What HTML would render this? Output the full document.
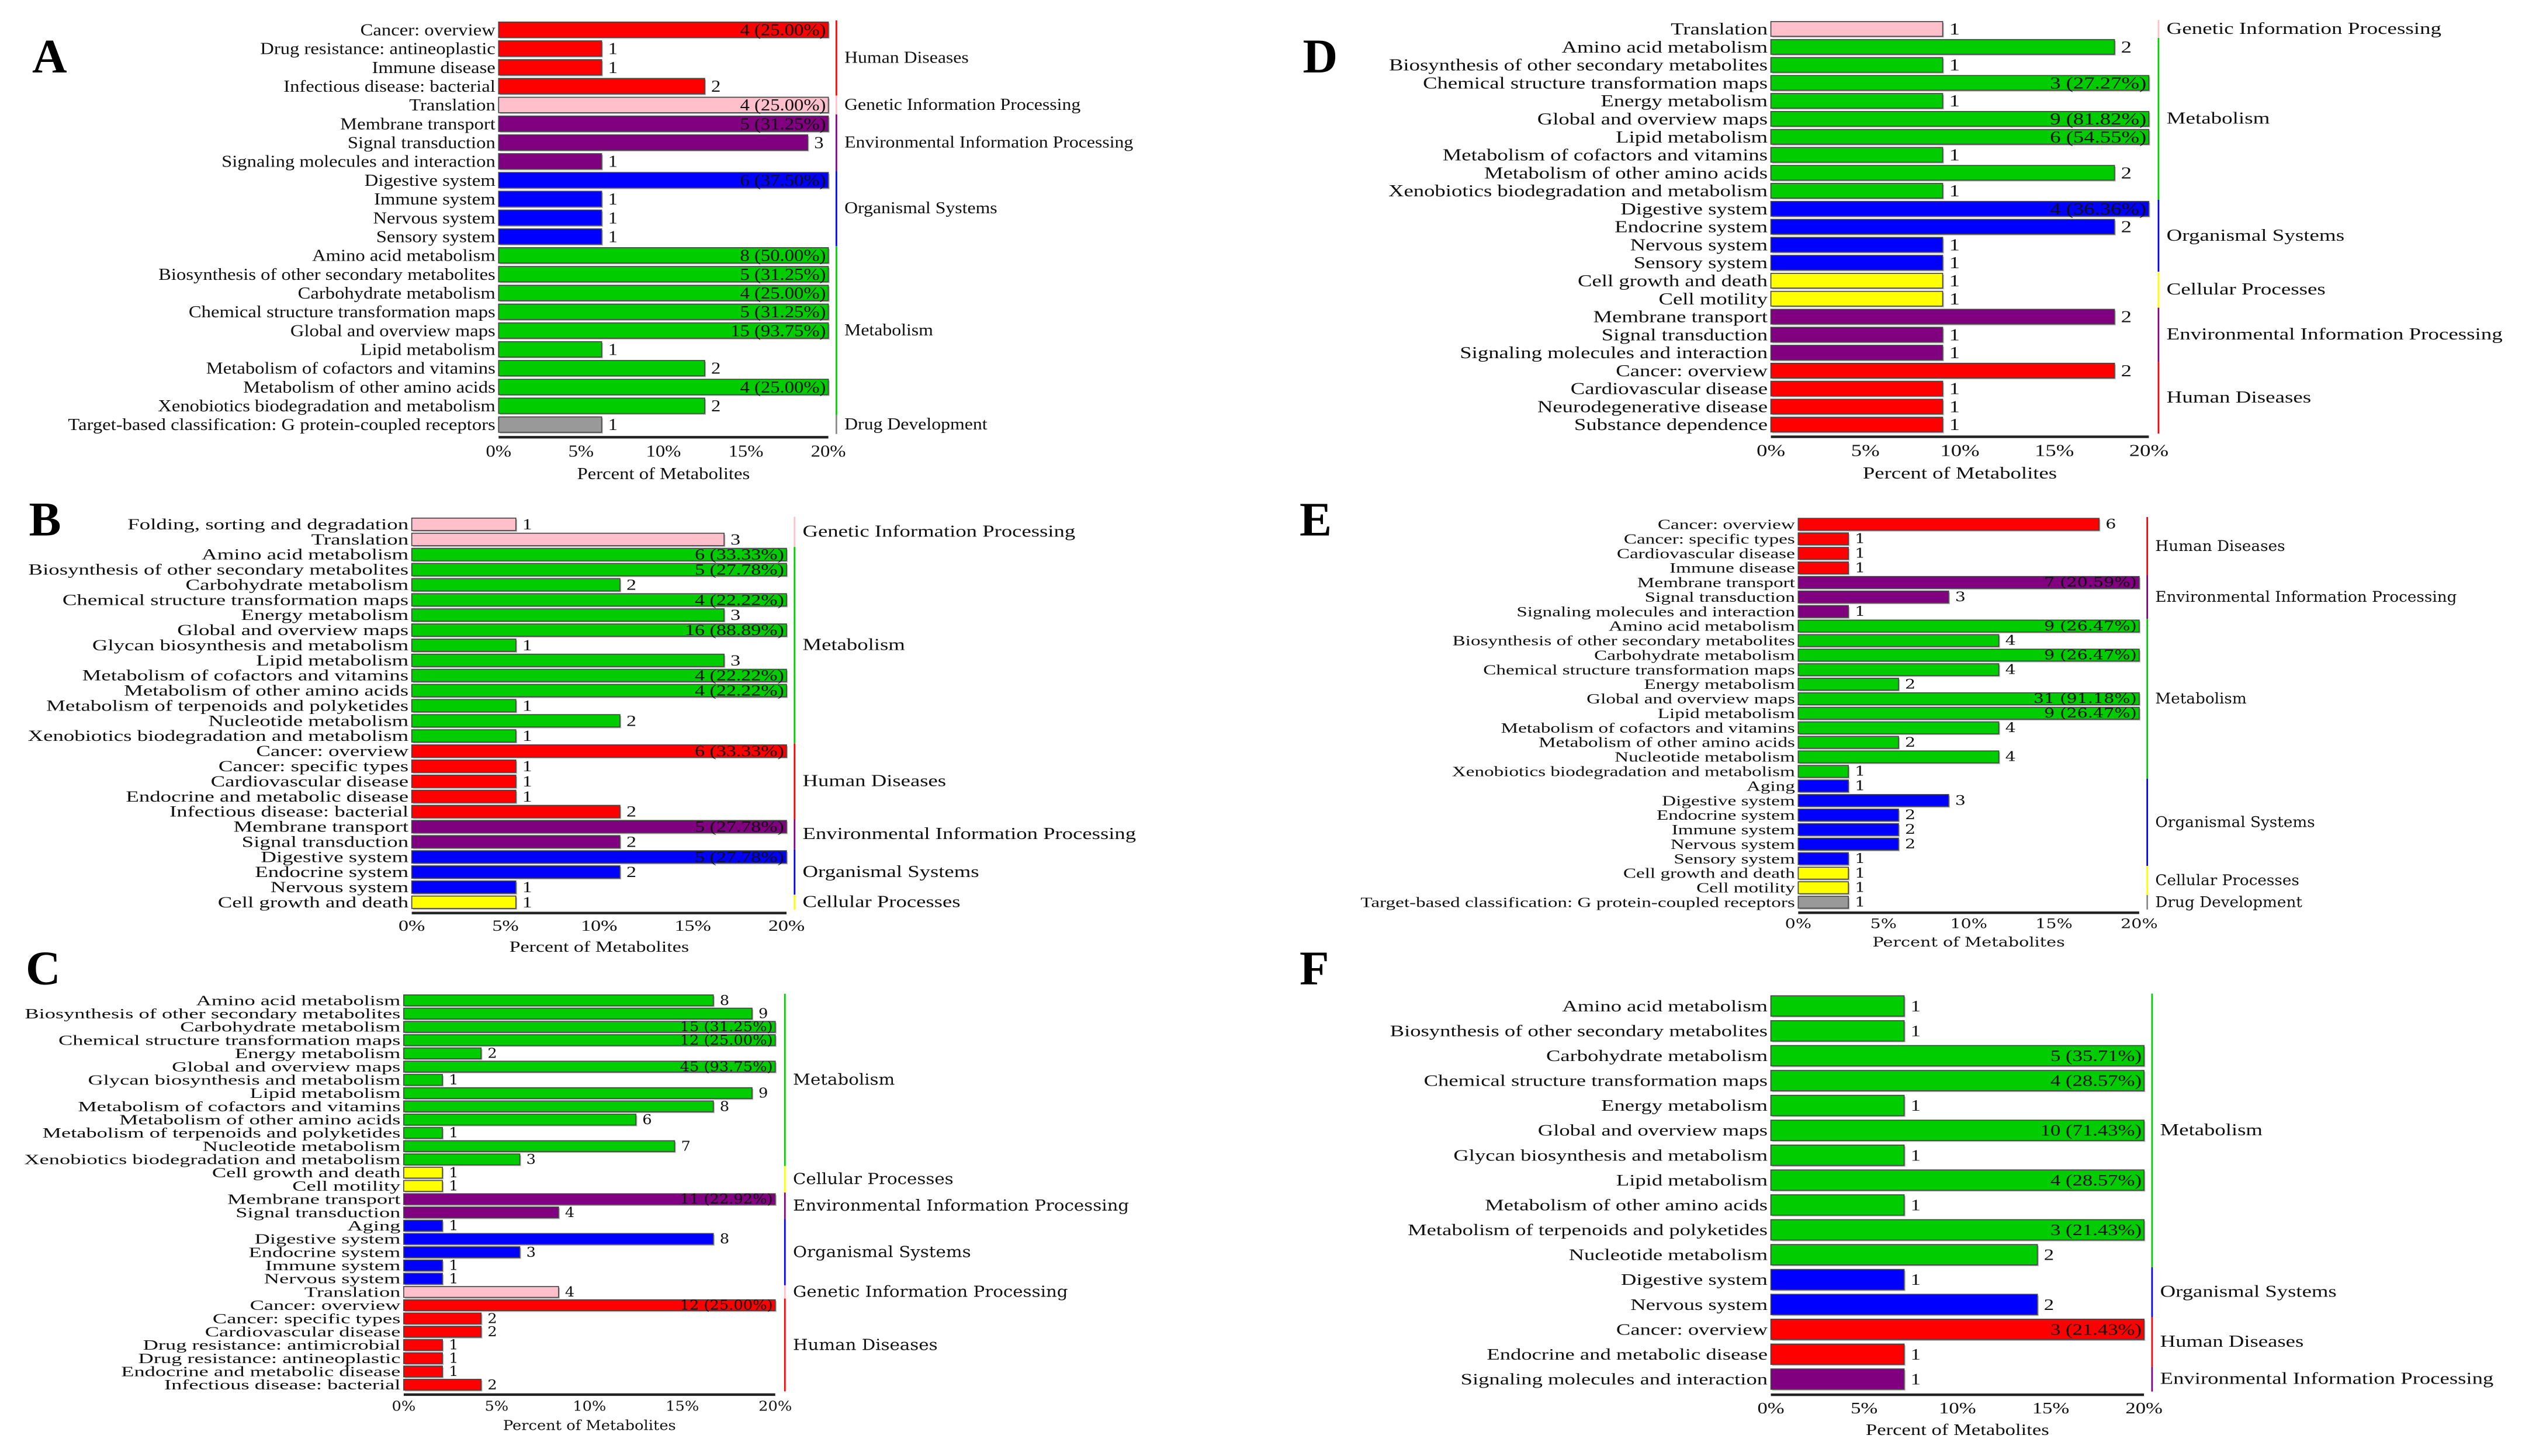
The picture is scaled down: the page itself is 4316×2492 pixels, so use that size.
<!DOCTYPE html>
<html><head><meta charset="utf-8">
<style>
html,body{margin:0;padding:0;background:#fff;}
svg{display:block;}
</style></head>
<body>
<svg id="fig" xmlns="http://www.w3.org/2000/svg" width="4316" height="2492" viewBox="0 0 1568 905.3" preserveAspectRatio="none"></svg>
<script>
// ---- Panel A data ----
const aCats=["Cancer: overview","Drug resistance: antineoplastic","Immune disease","Infectious disease: bacterial","Translation","Membrane transport","Signal transduction","Signaling molecules and interaction","Digestive system","Immune system","Nervous system","Sensory system","Amino acid metabolism","Biosynthesis of other secondary metabolites","Carbohydrate metabolism","Chemical structure transformation maps","Global and overview maps","Lipid metabolism","Metabolism of cofactors and vitamins","Metabolism of other amino acids","Xenobiotics biodegradation and metabolism","Target-based classification: G protein-coupled receptors"];
const aVals=[4,1,1,2,4,5,3,1,6,1,1,1,8,5,4,5,15,1,2,4,2,1];
const aGroups=["Human Diseases","Genetic Information Processing","Environmental Information Processing","Organismal Systems","Metabolism","Drug Development"];
const aGroupSizes=[4,1,3,4,9,1];
const aTotal=16;
// ---- Panel B data ----
const bCats=["Folding, sorting and degradation","Translation","Amino acid metabolism","Biosynthesis of other secondary metabolites","Carbohydrate metabolism","Chemical structure transformation maps","Energy metabolism","Global and overview maps","Glycan biosynthesis and metabolism","Lipid metabolism","Metabolism of cofactors and vitamins","Metabolism of other amino acids","Metabolism of terpenoids and polyketides","Nucleotide metabolism","Xenobiotics biodegradation and metabolism","Cancer: overview","Cancer: specific types","Cardiovascular disease","Endocrine and metabolic disease","Infectious disease: bacterial","Membrane transport","Signal transduction","Digestive system","Endocrine system","Nervous system","Cell growth and death"];
const bVals=[1,3,6,5,2,4,3,16,1,3,4,4,1,2,1,6,1,1,1,2,5,2,5,2,1,1];
const bGroups=["Genetic Information Processing","Metabolism","Human Diseases","Environmental Information Processing","Organismal Systems","Cellular Processes"];
const bGroupSizes=[2,13,5,2,3,1];
const bTotal=18;
// ---- Panel C data ----
const cCats=["Amino acid metabolism","Biosynthesis of other secondary metabolites","Carbohydrate metabolism","Chemical structure transformation maps","Energy metabolism","Global and overview maps","Glycan biosynthesis and metabolism","Lipid metabolism","Metabolism of cofactors and vitamins","Metabolism of other amino acids","Metabolism of terpenoids and polyketides","Nucleotide metabolism","Xenobiotics biodegradation and metabolism","Cell growth and death","Cell motility","Membrane transport","Signal transduction","Aging","Digestive system","Endocrine system","Immune system","Nervous system","Translation","Cancer: overview","Cancer: specific types","Cardiovascular disease","Drug resistance: antimicrobial","Drug resistance: antineoplastic","Endocrine and metabolic disease","Infectious disease: bacterial"];
const cVals=[8,9,15,12,2,45,1,9,8,6,1,7,3,1,1,11,4,1,8,3,1,1,4,12,2,2,1,1,1,2];
const cGroups=["Metabolism","Cellular Processes","Environmental Information Processing","Organismal Systems","Genetic Information Processing","Human Diseases"];
const cGroupSizes=[13,2,2,5,1,7];
const cTotal=48;
// ---- Panel D data ----
const dCats=["Translation","Amino acid metabolism","Biosynthesis of other secondary metabolites","Chemical structure transformation maps","Energy metabolism","Global and overview maps","Lipid metabolism","Metabolism of cofactors and vitamins","Metabolism of other amino acids","Xenobiotics biodegradation and metabolism","Digestive system","Endocrine system","Nervous system","Sensory system","Cell growth and death","Cell motility","Membrane transport","Signal transduction","Signaling molecules and interaction","Cancer: overview","Cardiovascular disease","Neurodegenerative disease","Substance dependence"];
const dVals=[1,2,1,3,1,9,6,1,2,1,4,2,1,1,1,1,2,1,1,2,1,1,1];
const dGroups=["Genetic Information Processing","Metabolism","Organismal Systems","Cellular Processes","Environmental Information Processing","Human Diseases"];
const dGroupSizes=[1,9,4,2,3,4];
const dTotal=11;
// ---- Panel E data ----
const eCats=["Cancer: overview","Cancer: specific types","Cardiovascular disease","Immune disease","Membrane transport","Signal transduction","Signaling molecules and interaction","Amino acid metabolism","Biosynthesis of other secondary metabolites","Carbohydrate metabolism","Chemical structure transformation maps","Energy metabolism","Global and overview maps","Lipid metabolism","Metabolism of cofactors and vitamins","Metabolism of other amino acids","Nucleotide metabolism","Xenobiotics biodegradation and metabolism","Aging","Digestive system","Endocrine system","Immune system","Nervous system","Sensory system","Cell growth and death","Cell motility","Target-based classification: G protein-coupled receptors"];
const eVals=[6,1,1,1,7,3,1,9,4,9,4,2,31,9,4,2,4,1,1,3,2,2,2,1,1,1,1];
const eGroups=["Human Diseases","Environmental Information Processing","Metabolism","Organismal Systems","Cellular Processes","Drug Development"];
const eGroupSizes=[4,3,11,6,2,1];
const eTotal=34;
// ---- Panel F data ----
const fCats=["Amino acid metabolism","Biosynthesis of other secondary metabolites","Carbohydrate metabolism","Chemical structure transformation maps","Energy metabolism","Global and overview maps","Glycan biosynthesis and metabolism","Lipid metabolism","Metabolism of other amino acids","Metabolism of terpenoids and polyketides","Nucleotide metabolism","Digestive system","Nervous system","Cancer: overview","Endocrine and metabolic disease","Signaling molecules and interaction"];
const fVals=[1,1,5,4,1,10,1,4,1,3,2,1,2,3,1,1];
const fGroups=["Metabolism","Organismal Systems","Human Diseases","Environmental Information Processing"];
const fGroupSizes=[11,2,2,1];
const fTotal=14;
const ticks=["0%","5%","10%","15%","20%"];
const tickVals=[0,5,10,15,20];

const COLORS={"Human Diseases":"#ff0000","Genetic Information Processing":"#ffc0cb","Environmental Information Processing":"#800080","Organismal Systems":"#0000ff","Metabolism":"#00cc00","Cellular Processes":"#ffff00","Drug Development":"#999999"};
const NS="http://www.w3.org/2000/svg";
const svg=document.getElementById('fig');
function mk(tag,attrs,parent){const e=document.createElementNS(NS,tag);for(const k in attrs)e.setAttribute(k,attrs[k]);(parent||svg).appendChild(e);return e;}
function slug(s){return s.toLowerCase().replace(/[^a-z0-9]+/g,'-').replace(/^-|-$/g,'');}
function fit(el,f){if(f===1)return;try{const l=el.getComputedTextLength();if(l>0){el.setAttribute('textLength',(l*f).toFixed(2));el.setAttribute('lengthAdjust','spacingAndGlyphs');}}catch(e){}}

function panel(id,letter,lx,ly,cats,vals,groups,sizes,total,L){
  const g=mk('g',{});
  
  
  const t=mk('text',{x:lx,y:ly,'font-family':'"Liberation Serif",serif','font-weight':'bold','font-size':30},g);
  t.textContent=letter;
  
  
  const n=cats.length;
  const step=(L.yLast-L.yFirst)/(n-1);
  const xs=v=>L.x0+(Math.min(v,20)/20)*(L.x20-L.x0);
  const yc=i=>L.yFirst+i*step;
  const bh=step*0.82;
  const rowColor=[];
  groups.forEach((gr,k)=>{for(let j=0;j<sizes[k];j++){rowColor.push(COLORS[gr]);}});
  for(let i=0;i<n;i++){
    const pct=vals[i]/total*100;
    const w=xs(pct)-L.x0;
    const y=yc(i)-bh/2;
    const sh=mk('rect',{x:L.x0+0.8,y:y+0.8,width:w,height:bh,fill:'#bbb'},g);
    
    
    const r=mk('rect',{x:L.x0,y:y,width:w,height:bh,fill:rowColor[i],stroke:'#444','stroke-width':0.6},g);
    
    
    const lab=mk('text',{x:L.x0-2,y:yc(i)+L.lfs*0.33,'text-anchor':'end','font-family':L.lfont,'font-size':L.lfs,fill:'#111'},g);
    lab.textContent=cats[i];
    
    
    fit(lab,L.lf);
    const vt=mk('text',{'font-family':L.font,'font-size':L.fs,fill:'#111',y:yc(i)+L.fs*0.33},g);
    if(pct>20){vt.setAttribute('x',L.x20-1.5);vt.setAttribute('text-anchor','end');vt.textContent=vals[i]+' ('+pct.toFixed(2)+'%)';}
    else{vt.setAttribute('x',xs(pct)+4);vt.textContent=String(vals[i]);}
    
    
    fit(vt,L.f);
  }
  let start=0;
  groups.forEach((gr,k)=>{
    const y1=yc(start)-step/2, y2=yc(start+sizes[k]-1)+step/2;
    const ln=mk('line',{x1:L.bx,x2:L.bx,y1:y1,y2:y2,stroke:COLORS[gr]==='#999999'?'#888':COLORS[gr],'stroke-width':1},g);
    
    
    const gt=mk('text',{x:L.bx+5,y:(y1+y2)/2+3,'font-family':L.font,'font-size':L.gfs,fill:'#111'},g);
    gt.textContent=gr;
    
    
    fit(gt,L.gf);
    start+=sizes[k];
  });
  const ay=yc(n-1)+step/2+2;
  const ax=mk('line',{x1:L.x0,x2:L.x20,y1:ay,y2:ay,stroke:'#222','stroke-width':1.6},g);
  
  
  tickVals.forEach((tv,k)=>{
    const tt=mk('text',{x:xs(tv),y:ay+L.fs+1.5,'text-anchor':'middle','font-family':L.font,'font-size':L.fs,fill:'#111'},g);
    tt.textContent=ticks[k];
    
    
    fit(tt,L.f);
  });
  const at=mk('text',{x:(L.x0+L.x20)/2,y:ay+L.fs*2+5,'text-anchor':'middle','font-family':L.font,'font-size':L.fs,fill:'#111'},g);
  at.textContent='Percent of Metabolites';
  
  
  fit(at,L.f);
}
const LS='"Liberation Serif",serif', DS='"DejaVu Serif",serif';
panel('a','A',20,45,aCats,aVals,aGroups,aGroupSizes,aTotal,{x0:310,x20:515,yFirst:18.5,yLast:264,bx:520,fs:10.5,f:1.13,lfs:10.5,lf:1.13,lfont:LS,gfs:10.5,gf:1.10,font:LS});
panel('b','B',18,333,bCats,bVals,bGroups,bGroupSizes,bTotal,{x0:256,x20:489,yFirst:326,yLast:561,bx:494,fs:9.5,f:1.3,lfs:9.5,lf:1.41,lfont:LS,gfs:10.5,gf:1.27,font:LS});
panel('c','C',16,612,cCats,cVals,cGroups,cGroupSizes,cTotal,{x0:251,x20:482,yFirst:622,yLast:861,bx:488,fs:8.5,f:1.1,lfs:9,lf:1.47,lfont:LS,gfs:9.5,gf:1.12,font:DS});
panel('d','D',810,45,dCats,dVals,dGroups,dGroupSizes,dTotal,{x0:1101,x20:1336,yFirst:18,yLast:264,bx:1342,fs:10.5,f:1.27,lfs:10.5,lf:1.27,lfont:LS,gfs:10.5,gf:1.28,font:LS});
panel('e','E',808,333,eCats,eVals,eGroups,eGroupSizes,eTotal,{x0:1118,x20:1330,yFirst:326,yLast:561,bx:1335,fs:8,f:1.3,lfs:9,lf:1.34,lfont:LS,gfs:9,gf:1.06,font:DS});
panel('f','F',808,612,fCats,fVals,fGroups,fGroupSizes,fTotal,{x0:1101,x20:1333,yFirst:625.5,yLast:857.5,bx:1338,fs:10,f:1.26,lfs:10,lf:1.33,lfont:LS,gfs:10.5,gf:1.27,font:LS});
</script>
</body></html>
